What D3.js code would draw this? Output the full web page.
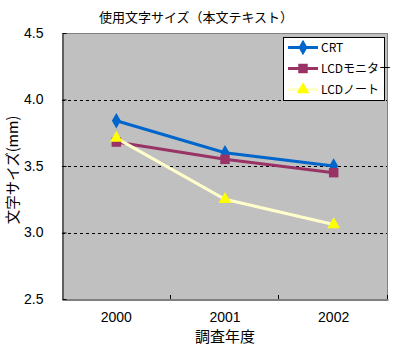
<!DOCTYPE html>
<html>
<head>
<meta charset="utf-8">
<script src="https://cdn.jsdelivr.net/npm/d3@7"></script>
<style>
  body { margin: 0; background: #fff; }
  text { font-family: "Noto Sans CJK JP", "Noto Sans", sans-serif; fill: #000; }
</style>
</head>
<body>
<div id="chart"></div>
<script>
// データ
var years = ["2000", "2001", "2002"];
var crt = [3.84, 3.60, 3.50];
var lcdMonitor = [3.68, 3.55, 3.45];
var lcdNote = [3.71, 3.25, 3.06];
var seriesNames = ["CRT", "LCDモニター", "LCDノート"];
var yTicks = [2.5, 3.0, 3.5, 4.0, 4.5];

var margin = { top: 33, right: 12, bottom: 51, left: 62 },
  width = 400 - margin.left - margin.right,
  height = 350 - margin.top - margin.bottom;

var svg = d3.select("#chart")
  .append("svg")
  .attr("width", 400)
  .attr("height", 350)
  .append("g")
  .attr("transform", "translate(" + margin.left + "," + margin.top + ")");

var x = d3.scaleBand().domain(years).range([0, width]);
var y = d3.scaleLinear().domain([2.5, 4.5]).range([height, 0]);

// 背景
svg.append("rect")
  .attr("width", width)
  .attr("height", height)
  .attr("fill", "#c0c0c0");

// グリッド線
svg.selectAll(".grid")
  .data(yTicks.filter(function (d) { return d > 2.5 && d < 4.5; }))
  .enter().append("line")
  .attr("x1", 0).attr("x2", width)
  .attr("y1", function (d) { return Math.round(y(d)) + 0.5; })
  .attr("y2", function (d) { return Math.round(y(d)) + 0.5; })
  .attr("stroke", "#000")
  .attr("stroke-dasharray", "3,3");

// 枠（上・右はグレー）
svg.append("path")
  .attr("d", "M0.5,0.5H" + (width - 0.5) + "V" + height)
  .attr("fill", "none")
  .attr("stroke", "#808080");

// Y軸
var yAxis = svg.append("g")
  .attr("transform", "translate(0.5,0)")
  .call(d3.axisLeft(y).tickValues(yTicks).tickFormat(d3.format(".1f")).tickSize(4).tickSizeOuter(0));
yAxis.select(".domain").attr("stroke", "#000");
yAxis.selectAll("line").attr("x2", 4);
yAxis.selectAll("text").attr("x", -19).style("font-size", "14px").style("font-family", "'Liberation Sans', sans-serif");

// X軸
var xAxis = svg.append("g")
  .attr("transform", "translate(0," + (height + 0.5) + ")")
  .call(d3.axisBottom(x).tickSize(0).tickSizeOuter(0));
xAxis.select(".domain").attr("stroke", "#000");
xAxis.selectAll("text").attr("y", 13).style("font-size", "14px").style("font-family", "'Liberation Sans', sans-serif");
// カテゴリ間の目盛
svg.selectAll(".xtick")
  .data(years.slice(1).concat(["end"]))
  .enter().append("line")
  .attr("x1", function (d, i) { return Math.round(i < 2 ? x(d) : width) - 0.5; })
  .attr("x2", function (d, i) { return Math.round(i < 2 ? x(d) : width) - 0.5; })
  .attr("y1", height).attr("y2", height - 4)
  .attr("stroke", "#000");

var cx = function (d, i) { return x(years[i]) + x.bandwidth() / 2; };

var line = d3.line()
  .x(function (d, i) { return cx(d, i); })
  .y(function (d) { return y(d); });

var series = [
  { name: seriesNames[0], data: crt, line: "#0066cc", fill: "#0066cc", shape: d3.symbolDiamond, size: 70 },
  { name: seriesNames[1], data: lcdMonitor, line: "#993366", fill: "#993366", shape: d3.symbolSquare, size: 90 },
  { name: seriesNames[2], data: lcdNote, line: "#ffffcc", fill: "#ffff00", shape: d3.symbolTriangle, size: 70 }
];

series.forEach(function (s) {
  svg.append("path")
    .datum(s.data)
    .attr("fill", "none")
    .attr("stroke", s.line)
    .attr("stroke-width", 3)
    .attr("d", line);
});
series.forEach(function (s) {
  svg.selectAll(null)
    .data(s.data)
    .enter().append("path")
    .attr("d", d3.symbol().type(s.shape).size(s.size))
    .attr("transform", function (d, i) { return "translate(" + cx(d, i) + "," + y(d) + ")"; })
    .attr("fill", s.fill);
});

// 凡例
var legend = svg.append("g").attr("transform", "translate(" + (283 - margin.left) + "," + (37 - margin.top) + ")");
legend.append("rect")
  .attr("x", 0.5).attr("y", 0.5)
  .attr("width", 101).attr("height", 63)
  .attr("fill", "#fff")
  .attr("stroke", "#000");
series.forEach(function (s, i) {
  var ly = 10.5 + i * 21;
  legend.append("line")
    .attr("x1", 5).attr("x2", 35)
    .attr("y1", ly).attr("y2", ly)
    .attr("stroke", s.line)
    .attr("stroke-width", 3);
  legend.append("path")
    .attr("d", d3.symbol().type(s.shape).size(s.size))
    .attr("transform", "translate(20," + ly + ")")
    .attr("fill", s.fill);
  legend.append("text")
    .attr("x", 38)
    .attr("y", ly + 4.5)
    .style("font-size", "12px")
    .text(s.name);
});

// タイトル
svg.append("text")
  .attr("x", 196 - margin.left)
  .attr("y", 22 - margin.top)
  .attr("text-anchor", "middle")
  .style("font-size", "13px")
  .text("使用文字サイズ（本文テキスト）");

// 軸ラベル
svg.append("text")
  .attr("x", 225 - margin.left)
  .attr("y", 342 - margin.top)
  .attr("text-anchor", "middle")
  .style("font-size", "15px")
  .text("調査年度");

svg.append("text")
  .attr("transform", "translate(" + (18 - margin.left) + "," + (170 - margin.top) + ") rotate(-90)")
  .attr("text-anchor", "middle")
  .style("font-size", "14.5px")
  .text("文字サイズ(mm)");
</script>
</body>
</html>
